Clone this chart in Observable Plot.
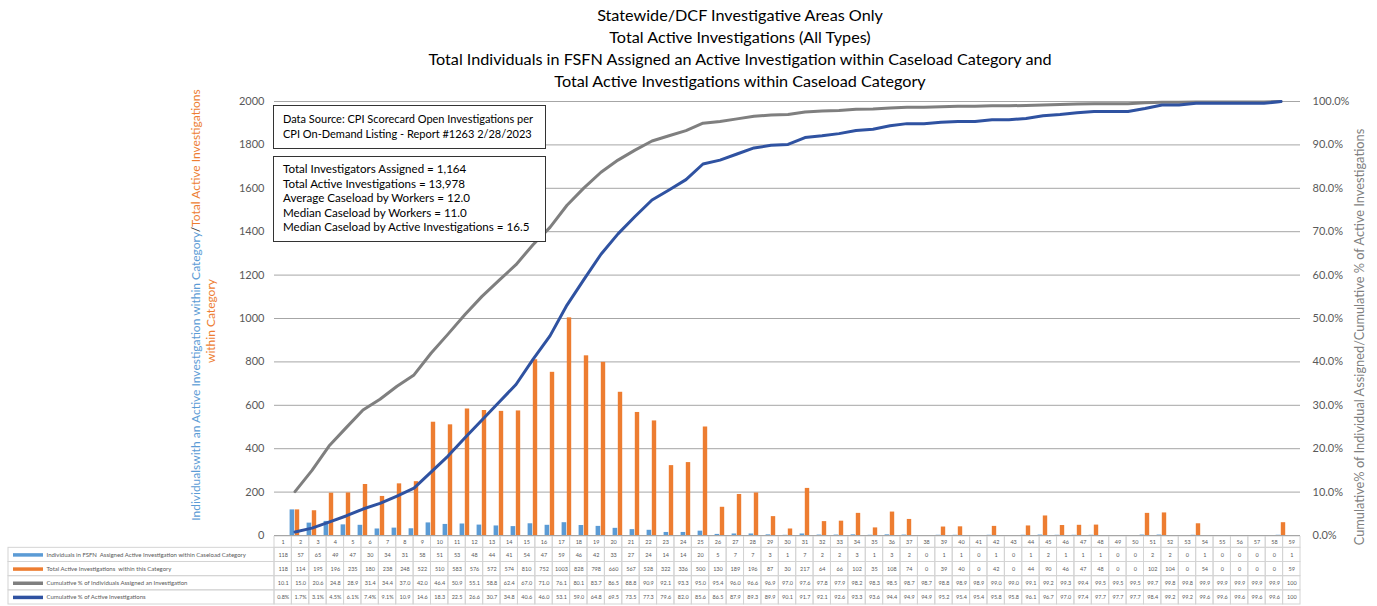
<!DOCTYPE html>
<html><head><meta charset="utf-8">
<script src="https://cdn.jsdelivr.net/npm/d3@7"></script>
<script src="https://cdn.jsdelivr.net/npm/@observablehq/plot@0.6"></script>
<style>
body{margin:0;background:#fff;overflow:hidden;}
#wrap{position:relative;width:1377px;height:606px;font-family:Lato,sans-serif;}
#title{position:absolute;left:340px;width:800px;top:4px;text-align:center;font-size:16.2px;line-height:22px;color:#000;}
#chart{position:absolute;left:0;top:95px;}
#table{position:absolute;left:0;top:536px;}
.box{position:absolute;background:#fff;border:1px solid #333;font-size:11.6px;line-height:14.5px;padding-left:9px;box-sizing:border-box;color:#000;white-space:nowrap;}
</style></head>
<body><div id="wrap">
<div id="title">Statewide/DCF Investigative Areas Only<br>Total Active Investigations (All Types)<br>Total Individuals in FSFN Assigned an Active Investigation within Caseload Category and<br>Total Active Investigations within Caseload Category</div>
<div id="chart"></div>
<div id="table"></div>
<div class="box" style="left:273px;top:105px;width:273px;height:44px;padding-top:6px;font-size:11px;">Data Source: CPI Scorecard Open Investigations per<br>CPI On-Demand Listing - Report #1263 2/28/2023</div>
<div class="box" style="left:273px;top:156px;width:273px;height:86px;padding-top:5px;">Total Investigators Assigned = 1,164<br>Total Active Investigations = 13,978<br>Average Caseload by Workers = 12.0<br>Median Caseload by Workers = 11.0<br>Median Caseload by Active Investigations = 16.5</div>
</div>
<script>
const categories = d3.range(1, 60);
const individuals = [118,57,65,49,47,30,34,31,58,51,53,48,44,41,54,47,59,46,42,33,27,24,14,14,20,5,7,7,3,1,7,2,2,3,1,3,2,0,1,1,0,1,0,1,2,1,1,1,0,0,2,2,0,1,0,0,0,0,1];
const totalActive = [118,114,195,196,235,180,238,248,522,510,583,576,572,574,810,752,1003,828,798,660,567,528,322,336,500,130,189,196,87,30,217,64,66,102,35,108,74,0,39,40,0,42,0,44,90,46,47,48,0,0,102,104,0,54,0,0,0,0,59];
const cumIndividualsPct = [10.1,15.0,20.6,24.8,28.9,31.4,34.4,37.0,42.0,46.4,50.9,55.1,58.8,62.4,67.0,71.0,76.1,80.1,83.7,86.5,88.8,90.9,92.1,93.3,95.0,95.4,96.0,96.6,96.9,97.0,97.6,97.8,97.9,98.2,98.3,98.5,98.7,98.7,98.8,98.9,98.9,99.0,99.0,99.1,99.2,99.3,99.4,99.5,99.5,99.5,99.7,99.8,99.8,99.9,99.9,99.9,99.9,99.9,100];
const cumActivePct = [0.8,1.7,3.1,4.5,6.1,7.4,9.1,10.9,14.6,18.3,22.5,26.6,30.7,34.8,40.6,46.0,53.1,59.0,64.8,69.5,73.5,77.3,79.6,82.0,85.6,86.5,87.9,89.3,89.9,90.1,91.7,92.1,92.6,93.3,93.6,94.4,94.9,94.9,95.2,95.4,95.4,95.8,95.8,96.1,96.7,97.0,97.4,97.7,97.7,97.7,98.4,99.2,99.2,99.6,99.6,99.6,99.6,99.6,100];
const leftTicks = d3.range(0, 2001, 200);
const seriesNames = ["Individuals in FSFN  Assigned Active Investigation within Caseload Category","Total Active Investigations  within this Category","Cumulative % of Individuals Assigned an Investigation","Cumulative % of Active Investigations"];
const seriesColors = ["#5b9bd5","#ed7d31","#7f7f7f","#2f52a1"];

const rows = categories.map((c, i) => ({cat: c, ind: individuals[i], tot: totalActive[i], cumI: cumIndividualsPct[i], cumA: cumActivePct[i]}));

const W = 1377, ML = 274, XR = 1300, MR = W - XR;
const C = seriesColors;

const chart = Plot.plot({
  width: W, height: 441, marginTop: 6, marginBottom: 1, marginLeft: ML, marginRight: MR,
  style: {fontFamily: "Lato, sans-serif", fontSize: "11px", color: "#595959", overflow: "visible", background: "transparent"},
  x: {type: "band", domain: categories, padding: 0, axis: null},
  y: {domain: [0, 2000], axis: null},
  marks: [
    Plot.gridY({ticks: leftTicks, stroke: "#a6a6a6", strokeOpacity: 1}),
    Plot.axisY({ticks: leftTicks, anchor: "left", tickSize: 0, tickPadding: 10, label: null, tickFormat: d => String(d)}),
    Plot.axisY({ticks: leftTicks, anchor: "right", tickSize: 0, tickPadding: 12, label: null, tickFormat: d => (d / 20).toFixed(1) + "%"}),
    Plot.barY(rows, {x: "cat", y: "ind", fill: C[0], insetLeft: 3.6, insetRight: 8.8}),
    Plot.barY(rows, {x: "cat", y: "tot", fill: C[1], insetLeft: 8.8, insetRight: 3.8}),
    Plot.lineY(rows, {x: "cat", y: d => d.cumI * 20, stroke: C[2], strokeWidth: 3}),
    Plot.lineY(rows, {x: "cat", y: d => d.cumA * 20, stroke: C[3], strokeWidth: 3})
  ]
});
document.getElementById("chart").appendChild(chart);

// axis titles
const svg = d3.select(chart);
const lt = svg.append("text").attr("transform", "translate(197,210) rotate(-90)")
  .attr("text-anchor", "middle").attr("dominant-baseline", "middle")
  .style("font-family", "Lato, sans-serif").style("font-size", "12px");
lt.append("tspan").attr("fill", C[0]).text("Individualswith an Active Investigation within Category");
lt.append("tspan").attr("fill", "#333").text("/");
lt.append("tspan").attr("fill", C[1]).text("Total Active Investigations");
svg.append("text").attr("transform", "translate(212,226) rotate(-90)")
  .attr("text-anchor", "middle").attr("dominant-baseline", "middle")
  .style("font-family", "Lato, sans-serif").style("font-size", "12px").attr("fill", C[1]).text("within Category");
svg.append("text").attr("transform", "translate(1361,242) rotate(-90)")
  .attr("text-anchor", "middle").attr("dominant-baseline", "middle")
  .style("font-family", "Lato, sans-serif").style("font-size", "12.8px").attr("fill", "#7f7f7f")
  .text("Cumulative% of Individual Assigned/Cumulative % of Active Investigations");

// data table
const unit = (XR - ML) / categories.length;
const TL = 8;
const L = 0.5 - (ML - TL) / unit;
const edges = [0, 0.8, 1.8, 2.8, 3.8, 4.8];
const fmt1 = v => v === 100 ? "100" : v.toFixed(1);
const rowTexts = [
  categories.map(String),
  individuals.map(String),
  totalActive.map(String),
  cumIndividualsPct.map(fmt1),
  cumActivePct.map((v, i) => i < 7 ? v.toFixed(1) + "%" : fmt1(v))
];
const cells = [];
rowTexts.forEach((arr, r) => arr.forEach((t, i) => cells.push({c: categories[i], r, t})));
const legendRows = seriesNames.map((name, i) => ({r: i + 1, name, color: seriesColors[i]}));

const table = Plot.plot({
  width: W, height: 70, marginTop: 0, marginBottom: 2, marginLeft: TL, marginRight: MR,
  style: {fontFamily: "Lato, sans-serif", color: "#595959", background: "transparent"},
  x: {domain: [L, categories.length + 0.5], axis: null},
  y: {domain: [0, edges[edges.length - 1]], reverse: true, axis: null},
  marks: [
    Plot.rect(cells, {x1: d => d.c - 0.5, x2: d => d.c + 0.5, y1: d => edges[d.r], y2: d => edges[d.r + 1], stroke: "#d4d4d4", fill: "none"}),
    Plot.rect(legendRows, {x1: L, x2: 0.5, y1: d => edges[d.r], y2: d => edges[d.r + 1], stroke: "#d4d4d4", fill: "none"}),
    Plot.text(cells, {x: "c", y: d => (edges[d.r] + edges[d.r + 1]) / 2, text: "t", fontSize: 5.5, fill: "#595959"}),
    Plot.ruleY(legendRows, {y: d => (edges[d.r] + edges[d.r + 1]) / 2, x1: L + 5 / unit, x2: L + 35 / unit, stroke: "color", strokeWidth: 3.5}),
    Plot.text(legendRows, {x: L + 38 / unit, y: d => (edges[d.r] + edges[d.r + 1]) / 2, text: "name", textAnchor: "start", fontSize: 6, fill: "#595959"})
  ]
});
document.getElementById("table").appendChild(table);
</script>
</body></html>
